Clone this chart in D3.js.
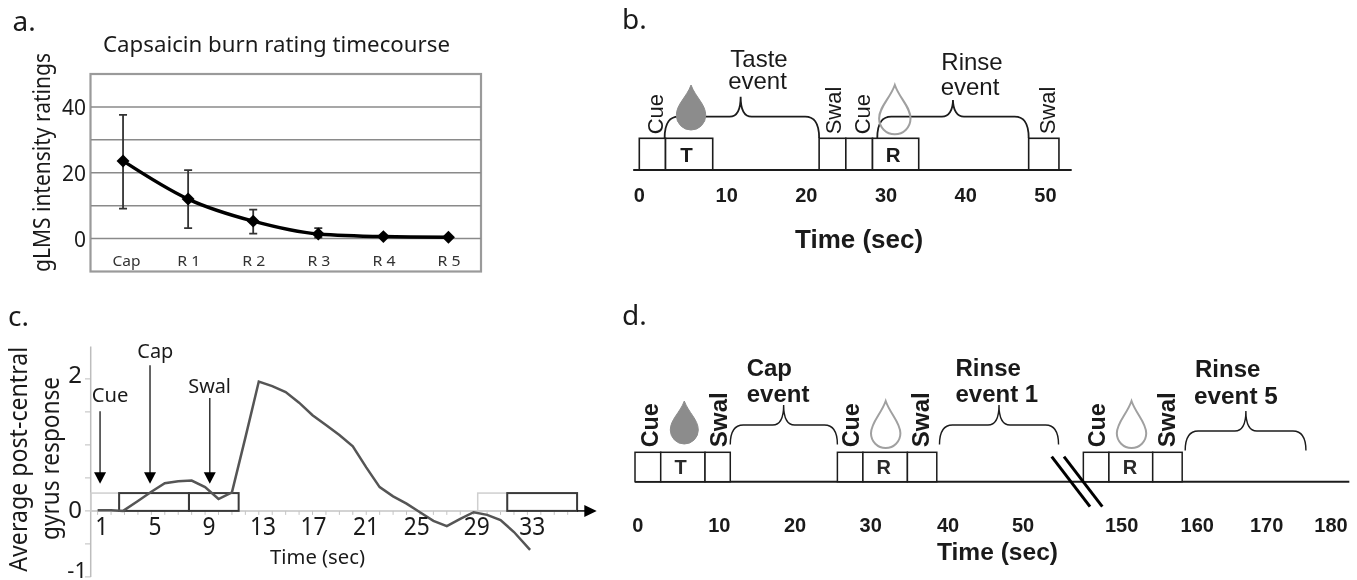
<!DOCTYPE html>
<html><head><meta charset="utf-8">
<script src="https://cdnjs.cloudflare.com/ajax/libs/d3/7.8.5/d3.min.js"></script>
<style>html,body{margin:0;padding:0;background:#fff}svg{display:block;filter:blur(0.4px)}</style>
</head><body><svg id="c" width="1357" height="580"></svg>
<script>
// ---------- data ----------
const ratingCats=["Cap","R 1","R 2","R 3","R 4","R 5"];
const ratingVals=[23.6,12,5.3,1.4,0.6,0.4];
const ratingLow=[9.1,3.2,1.5,0.3,0.4,0.3];
const ratingHigh=[37.6,20.8,8.8,3.2,0.8,0.5];
const ratingTicks=[0,20,40];
const ratingGrid=[0,10,20,30,40];

const respTimes=[1,2,2.9,4,5,6,7,8,9,10,11,12,13,14,15,16,17,18,19,20,21,22,23,24,25,26,27,28,29,30,31,32,33.2];
const respVals=[0.01,0.01,0,0.15,0.29,0.42,0.45,0.46,0.36,0.18,0.28,1.11,1.96,1.89,1.8,1.64,1.45,1.3,1.15,0.98,0.66,0.36,0.22,0.11,-0.02,-0.15,-0.23,-0.12,-0.02,-0.06,-0.14,-0.32,-0.59];
const respTicks=[1,5,9,13,17,21,25,29,33];
const respGrayBoxes=[[0.5,2.6],[29.3,31.5]];
const respDarkBoxes=[[2.6,7.8],[7.8,11.5],[31.5,36.7]];
const respArrows=[["Cue",1.18,1.51],["Cap",4.9,2.206],["Swal",9.35,1.71]];

const bTicks=[0,10,20,30,40,50];
const bBoxes=[[0,3],[3,8.4],[21.6,24.95],[24.95,28.3],[28.3,34.1],[47.9,51.7]];
const bBoxLabels=[["T",5.4],["R",30.9]];
const bRot=[["Cue",2.75],["Swal",24.4],["Cue",27.95],["Swal",51.2]];
const bBraces=[[2.9,21.6,11.75],[28.9,47.9,38.4]];
const bDropT=[5.92,31.1];

const dTicks=[0,10,20,30,40,50,150,160,170,180];
const dBoxes=[[-0.33,2.82],[2.82,8.25],[8.25,11.45],[25.6,28.97],[28.97,34.75],[34.75,38.55],[144.9,148.3],[148.3,154.1],[154.1,158]];
const dBoxLabels=[["T",5.27],["R",31.7],["R",151.1]];
const dCue=[2.52,28.5,147.8];
const dSwal=[10.97,37.5,157.05];
const dDrops=[[5.71,true],[31.94,false],[151.3,false]];
const dBraces=[[11.45,25.6,18.5,0],[38.9,141.6,46.8,0],[158.4,176.1,167,1]];

// ---------- helpers ----------
const svg=d3.select("#c");
const MY="'Noto Sans',sans-serif", AR="'Liberation Sans',Arial,sans-serif";
function T(str,x,y,o={}){
  const t=svg.append("text").text(str).attr("x",x).attr("y",y)
    .attr("font-family",o.font||MY).attr("font-size",o.size||20)
    .attr("font-weight",o.weight||"normal").attr("fill",o.fill||"#1a1a1a")
    .attr("text-anchor",o.anchor||"start");
  if(o.len){t.attr("textLength",o.len).attr("lengthAdjust","spacingAndGlyphs");}
  if(o.rot)t.attr("transform",`rotate(${o.rot} ${x} ${y})`);
  return t;
}
function brace(x0,x1,xm,yb,yf,yp,r){
  const p=d3.path();
  p.moveTo(x0,yb);
  p.bezierCurveTo(x0,yf+4,x0+r*0.45,yf,x0+r,yf);
  p.lineTo(xm-11,yf);
  p.bezierCurveTo(xm-4,yf,xm,yf-7,xm,yp);
  p.bezierCurveTo(xm,yf-7,xm+4,yf,xm+11,yf);
  p.lineTo(x1-r,yf);
  p.bezierCurveTo(x1-r*0.45,yf,x1,yf+4,x1,yb);
  return p.toString();
}
function drop(cx,tip,bot,hw){
  const r=hw, cy=bot-r, p=d3.path();
  p.moveTo(cx,tip);
  p.bezierCurveTo(cx+hw*0.3,tip+(cy-tip)*0.4,cx+hw,cy-r*0.75,cx+hw,cy);
  p.arc(cx,cy,r,0,Math.PI,false);
  p.bezierCurveTo(cx-hw,cy-r*0.75,cx-hw*0.3,tip+(cy-tip)*0.4,cx,tip);
  p.closePath();
  return p.toString();
}
function drawDrop(x,tip,bot,hw,filled){
  svg.append("path").attr("d",drop(x,tip,bot,hw))
    .attr("fill",filled?"#8c8c8c":"none").attr("stroke",filled?"#8c8c8c":"#a0a0a0").attr("stroke-width",filled?1:2);
}
const dark="#1c1c1c";

// ---------- panel a ----------
T("a.",12.5,31,{size:28});
T("Capsaicin burn rating timecourse",103,52,{size:22,len:347});
T("gLMS intensity ratings",50,272,{size:24,rot:-90,len:219});
const ax=d3.scaleBand().domain(ratingCats).range([90.5,481]);
const ay=d3.scaleLinear().domain([-10,50]).range([271.5,74]);
svg.append("rect").attr("x",90.5).attr("y",74).attr("width",390.5).attr("height",197.5).attr("fill","#fff").attr("stroke","#9a9a9a").attr("stroke-width",2.2);
svg.selectAll(".ga").data(ratingGrid).join("line").attr("x1",91).attr("x2",481).attr("y1",d=>ay(d)).attr("y2",d=>ay(d)).attr("stroke","#8a8a8a").attr("stroke-width",1.5);
ratingTicks.forEach(d=>T(d,86,ay(d)+8,{size:21,anchor:"end"}));
ratingCats.forEach(d=>T(d,ax(d)+ax.bandwidth()/2+(d==="Cap"?3.4:0.6),265.7,{size:15,anchor:"middle",fill:"#333",len:d==="Cap"?28:23}));
ratingCats.forEach((c,i)=>{
  const x=ax(c)+ax.bandwidth()/2;
  svg.append("path").attr("fill","none").attr("stroke","#333").attr("stroke-width",1.8)
   .attr("d",`M${x},${ay(ratingLow[i])}V${ay(ratingHigh[i])}M${x-4},${ay(ratingLow[i])}H${x+4}M${x-4},${ay(ratingHigh[i])}H${x+4}`);
});
svg.append("path").datum(ratingVals).attr("fill","none").attr("stroke","#000").attr("stroke-width",3.5)
  .attr("d",d3.line().curve(d3.curveMonotoneX).x((d,i)=>ax(ratingCats[i])+ax.bandwidth()/2).y(d=>ay(d)));
ratingVals.forEach((v,i)=>svg.append("path").attr("d",d3.symbol(d3.symbolSquare,84)()).attr("fill","#000")
  .attr("transform",`translate(${ax(ratingCats[i])+ax.bandwidth()/2},${ay(v)}) rotate(45)`));

// ---------- panel b ----------
T("b.",622,29,{size:28});
const bx=d3.scaleLinear().domain([0,10,53.3]).range([639.3,726.7,1071.7]);
const bTop=138.3,bBot=170;
svg.selectAll(".bb").data(bBoxes).join("rect").attr("x",d=>bx(d[0])).attr("width",d=>bx(d[1])-bx(d[0])).attr("y",bTop).attr("height",bBot-bTop).attr("fill","#fff").attr("stroke",dark).attr("stroke-width",1.6);
svg.append("line").attr("x1",bx(-0.7)).attr("x2",bx(53.3)).attr("y1",bBot).attr("y2",bBot).attr("stroke",dark).attr("stroke-width",2);
bBoxLabels.forEach(d=>T(d[0],bx(d[1]),162,{font:AR,size:20.5,weight:"bold",anchor:"middle"}));
bTicks.forEach(d=>T(d,bx(d),202.3,{font:AR,size:20,weight:"bold",anchor:"middle"}));
T("Time (sec)",795,248.3,{font:AR,size:26,weight:"bold"});
bRot.forEach(d=>T(d[0],bx(d[1]),134.3,{font:AR,size:22,rot:-90}));
bBraces.forEach((d,i)=>svg.append("path").attr("d",brace(bx(d[0]),bx(d[1]),bx(d[2]),138,116.7,i?100:96.7,14)).attr("fill","none").attr("stroke",dark).attr("stroke-width",1.8));
drawDrop(bx(bDropT[0]),85,130,14.7,true);
drawDrop(bx(bDropT[1]),85,134.3,15.7,false);
T("Taste",759,66.7,{font:AR,size:24,anchor:"middle"});
T("event",757.5,89,{font:AR,size:24,anchor:"middle"});
T("Rinse",972,70,{font:AR,size:24,anchor:"middle"});
T("event",970,95,{font:AR,size:24,anchor:"middle"});

// ---------- panel c ----------
T("c.",8,326,{size:28});
const cx=d3.scaleLinear().domain([13,33]).range([258.8,527.4]);
const cy=d3.scaleLinear().domain([-1,2]).range([576.9,378.9]);
const cLabelX=d3.scaleLinear().domain(respTicks).range([101.7,155,209,263,313.5,366,416.7,476.7,532.3]);
svg.append("line").attr("x1",90.7).attr("x2",90.7).attr("y1",346.5).attr("y2",577).attr("stroke","#bdbdbd").attr("stroke-width",1.5);
d3.range(-1,2.5,0.5).forEach(v=>svg.append("line").attr("x1",85).attr("x2",90.7).attr("y1",cy(v)).attr("y2",cy(v)).attr("stroke","#bdbdbd"));
svg.append("line").attr("x1",90).attr("x2",586).attr("y1",cy(0)).attr("y2",cy(0)).attr("stroke","#c4c4c4").attr("stroke-width",1.5);
d3.range(1,37).forEach(t=>svg.append("line").attr("x1",cx(t)).attr("x2",cx(t)).attr("y1",cy(0)).attr("y2",cy(0)+4).attr("stroke","#c4c4c4"));
respGrayBoxes.forEach(d=>svg.append("rect").attr("x",cx(d[0])).attr("width",cx(d[1])-cx(d[0])).attr("y",cy(0.27)).attr("height",cy(0)-cy(0.27)).attr("fill","none").attr("stroke","#cfcfcf").attr("stroke-width",1.5));
respDarkBoxes.forEach(d=>svg.append("rect").attr("x",cx(d[0])).attr("width",cx(d[1])-cx(d[0])).attr("y",cy(0.27)).attr("height",cy(0)-cy(0.27)).attr("fill","none").attr("stroke","#3a3a3a").attr("stroke-width",2));
svg.append("line").attr("x1",cx(36.7)).attr("x2",586).attr("y1",cy(0)).attr("y2",cy(0)).attr("stroke","#111").attr("stroke-width",1.5);
svg.append("path").attr("d",`M584.3,${cy(0)-6}L596.7,${cy(0)}L584.3,${cy(0)+6}Z`).attr("fill","#000");
svg.append("path").datum(respVals).attr("fill","none").attr("stroke","#555").attr("stroke-width",2.5)
  .attr("d",d3.line().x((d,i)=>cx(respTimes[i])).y(d=>cy(d)));
respArrows.forEach(d=>{
  const x=cx(d[1]);
  svg.append("line").attr("x1",x).attr("x2",x).attr("y1",cy(d[2])).attr("y2",cy(0.55)).attr("stroke","#333").attr("stroke-width",1.5);
  svg.append("path").attr("d",`M${x-6},${cy(0.585)}H${x+6}L${x},${cy(0.41)}Z`).attr("fill","#000");
});
T("Cue",91.7,401.7,{size:20,len:36.6});
T("Cap",137.3,358,{size:20,len:36});
T("Swal",188.3,393,{size:20,len:42.7});
respTicks.forEach(d=>T(d,cLabelX(d),535,{size:25,anchor:"middle",len:String(d).length*13}));
T("2",82,382.7,{size:24,anchor:"end"});
T("0",82,517.7,{size:24,anchor:"end"});
T("-1",87,577.5,{size:22,anchor:"end"});
T("Time (sec)",317.5,564,{size:19,anchor:"middle",len:95});
T("Average post-central",26.7,571.7,{size:24.5,rot:-90,len:225});
T("gyrus response",59.3,540,{size:24.5,rot:-90,len:163});

// ---------- panel d ----------
T("d.",622,325,{size:28});
const dxs=d3.scaleLinear().domain([0,10,20,30,40,50,140,150,160,170,180]).range([637.7,719.3,795,870.7,948,1023,1046.5,1121.7,1197.3,1266.7,1331]);
const dTop=452.3,dBot=481.7;
svg.append("line").attr("x1",dxs(-0.33)).attr("x2",dxs(182.85)).attr("y1",dBot).attr("y2",dBot).attr("stroke",dark).attr("stroke-width",2);
svg.selectAll(".db").data(dBoxes).join("rect").attr("x",d=>dxs(d[0])).attr("width",d=>dxs(d[1])-dxs(d[0])).attr("y",dTop).attr("height",dBot-dTop).attr("fill","#fff").attr("stroke",dark).attr("stroke-width",1.5);
dBoxLabels.forEach(d=>T(d[0],dxs(d[1]),474.3,{font:AR,size:20,weight:"bold",anchor:"middle",fill:"#2a2a2a"}));
dTicks.forEach(d=>T(d,dxs(d),531.5,{font:AR,size:20,weight:"bold",anchor:"middle"}));
T("Time (sec)",997.5,560,{font:AR,size:24,weight:"bold",anchor:"middle",len:121});
dCue.forEach(d=>T("Cue",dxs(d),447.3,{font:AR,size:23.3,weight:"bold",rot:-90}));
dSwal.forEach(d=>T("Swal",dxs(d),447.3,{font:AR,size:24.2,weight:"bold",rot:-90}));
dDrops.forEach(d=>drawDrop(dxs(d[0]),401,d[1]?444:448,d[1]?14:14.7,d[1]));
dBraces.forEach(d=>{
  const off=d[3]?6:0;
  svg.append("path").attr("d",brace(dxs(d[0]),dxs(d[1]),dxs(d[2]),444.5+off,425+off,405+off,13)).attr("fill","none").attr("stroke",dark).attr("stroke-width",1.4);
});
T("Cap",746.7,376,{font:AR,size:24,weight:"bold"});
T("event",746.7,402,{font:AR,size:24,weight:"bold"});
T("Rinse",955.5,376,{font:AR,size:24,weight:"bold"});
T("event 1",955.5,402,{font:AR,size:24,weight:"bold"});
T("Rinse",1195,376.7,{font:AR,size:24,weight:"bold"});
T("event 5",1194,404,{font:AR,size:24.3,weight:"bold"});
[0,12.3].forEach(off=>svg.append("line").attr("x1",1051.7+off).attr("x2",1090+off).attr("y1",456.7).attr("y2",506.7).attr("stroke","#000").attr("stroke-width",3));
</script></body></html>
